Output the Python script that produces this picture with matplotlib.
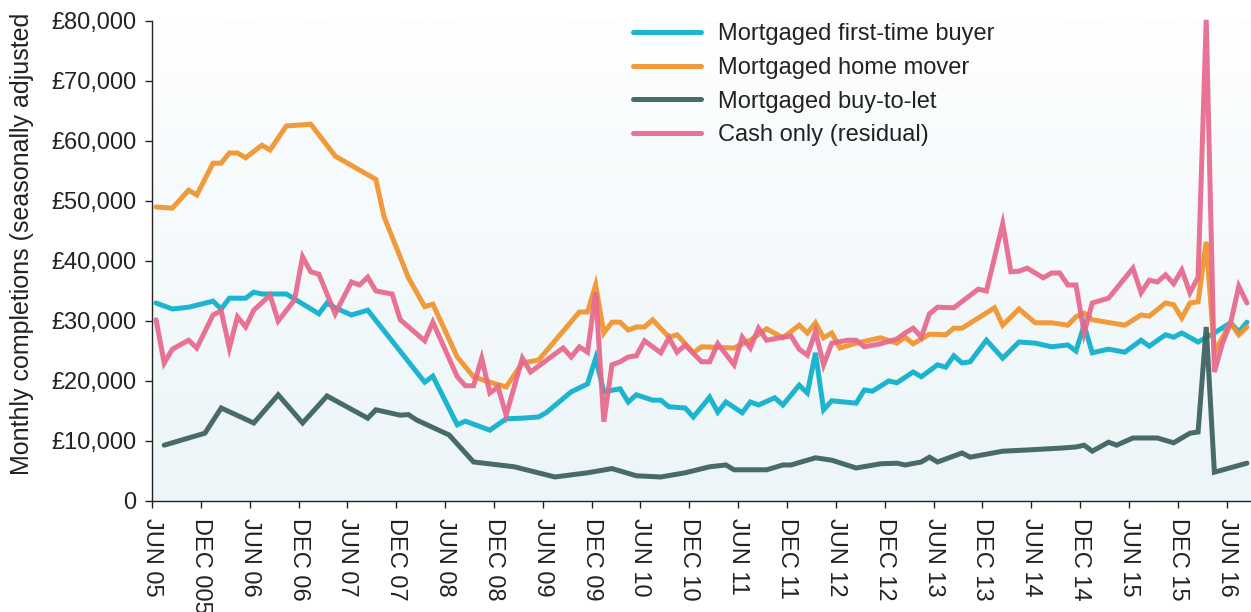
import matplotlib
matplotlib.use("Agg")
import matplotlib.pyplot as plt
import numpy as np

plt.rcParams['font.family'] = ['Liberation Sans', 'DejaVu Sans']

# months counted from June 2005 (0 = Jun 05)
ftb_months = [0, 2, 4, 7, 8, 9, 11, 12, 13, 16, 20, 21, 22, 24, 26, 33, 34, 37, 38, 41, 43, 45,
              47, 48, 51, 53, 54, 55, 57, 58, 59, 61, 62, 63, 65, 66, 68, 69, 70, 72, 73, 74, 76,
              77, 79, 80, 81, 82, 83, 86, 87, 88, 90, 91, 93, 94, 96, 97, 98, 99, 100, 102, 104,
              106, 108, 110, 112, 113, 114, 115, 117, 119, 121, 122, 124, 125, 126, 128, 130, 132,
              133, 134]
ftb_values = [33000, 32000, 32300, 33300, 32000, 33800, 33800, 34800, 34500, 34500, 31200, 33000,
              32200, 31000, 31800, 19800, 20800, 12700, 13300, 11800, 13700, 13800,
              14000, 14800, 18200, 19500, 23800, 18200, 18700, 16500, 17700, 16800, 16800, 15700,
              15500, 14000, 17300, 14800, 16500, 14700, 16500, 16000, 17200,
              16000, 19300, 18000, 24700, 15200, 16700, 16300, 18500, 18300, 20000, 19700, 21500,
              20700, 22700, 22300, 24200, 23000, 23200, 26800, 23800,
              26500, 26300, 25700, 26000, 25000, 29300, 24700, 25300, 24800, 26800, 25800, 27700,
              27300, 28000, 26500, 28000, 29700, 28200, 29800]

mover_months = [0, 2, 4, 5, 7, 8, 9, 10, 11, 13, 14, 16, 19, 22, 23, 27, 28, 31, 33, 34, 37, 39,
                41, 43, 45, 47, 52, 53, 54, 55, 56, 57, 58, 59, 60, 61, 63, 64, 66, 67, 71, 73,
                75, 77, 79, 80, 81, 82, 83, 84, 86, 89, 91, 92, 93, 95, 97, 98, 99, 103, 104,
                106, 108, 110, 112, 113, 114, 115, 119, 121, 122, 124, 125, 126, 127, 128, 129,
                130, 132, 133, 134]
mover_values = [49000, 48800, 51800, 51000, 56300, 56300, 58000, 58000, 57200, 59300, 58500,
                62500, 62800, 57500, 56700, 53600, 47400, 37200, 32400, 32800, 24000, 20700,
                19800, 19000, 23000, 23500, 31500, 31500, 36000, 28000, 29800, 29800, 28500,
                29000, 29000, 30200, 27300, 27700, 24700, 25700, 25500, 26800,
                28700, 27200, 29300, 28000, 29700, 27200, 28000, 25500, 26300, 27200, 26300,
                27300, 26200, 27800, 27700, 28800, 28800, 32200, 29300,
                32000, 29700, 29700, 29300, 30700, 31300, 30200, 29300, 31000, 30800, 33000,
                32700, 30500, 33000, 33200, 43200, 24800, 29700, 27700, 29000]

btl_months = [1, 6, 8, 12, 15, 18, 21, 26, 27, 30, 31, 32, 36, 39, 44, 49, 53, 56, 59, 62, 65,
              68, 70, 71, 75, 77, 78, 81, 83, 86, 89, 91, 92, 94, 95, 96, 99, 100, 104, 107,
              111, 113, 114, 115, 117, 118, 120, 123, 125, 127, 128, 129, 130, 134]
btl_values = [9300, 11300, 15500, 13000, 17700, 13000, 17500, 13800, 15200, 14300, 14400, 13500,
              11000, 6500, 5700, 4000, 4700, 5400, 4200, 4000, 4700,
              5700, 6000, 5200, 5200, 6000, 6000, 7200, 6800, 5500, 6200, 6300, 6000, 6500,
              7300, 6500, 8000, 7300, 8300, 8500,
              8800, 9000, 9300, 8300, 9800, 9300, 10500, 10500, 9700, 11300, 11500, 29000,
              4800, 6300]

cash_months = [0, 1, 2, 4, 5, 7, 8, 9, 10, 11, 12, 14, 15, 17, 18, 19, 20, 22, 24, 25, 26, 27,
               29, 30, 33, 34, 37, 38, 39, 40, 41, 42, 43, 45, 46, 48, 50, 51, 52, 53, 54, 55,
               56, 57, 58, 59, 60, 62, 63, 64, 65, 67, 68, 69, 71, 72, 73, 74, 75, 77, 78, 79,
               80, 81, 82, 83, 85, 86, 87, 89, 91, 92, 93, 94, 95, 96, 98, 101, 102, 104, 105,
               106, 107, 109, 110, 111, 112, 113, 114, 115, 117, 120, 121, 122, 123, 124, 125,
               126, 127, 128, 129, 130, 131, 132, 133, 134]
cash_values = [30200, 23000, 25300, 26800, 25500, 31000, 31700, 25500, 30700, 29000, 31800,
               34300, 30000, 33500, 40700, 38200, 37800, 31200, 36500, 36000, 37300, 35000,
               34500, 30200, 26700, 29800, 20700, 19200, 19200, 23800, 18000, 19000, 14300,
               23800, 21500, 23500, 25500, 24000, 25700, 24800, 34800, 13200,
               22700, 23200, 24000, 24200, 26700, 24700, 27200, 24800, 26000, 23200, 23200,
               26200, 22700, 27300, 25500, 28800, 26800, 27300, 27500, 25300,
               24300, 28200, 22700, 26300, 26800, 26800, 25700, 26200, 27000, 28000, 28800,
               27300, 31200, 32300, 32200, 35300, 35000, 46200, 38200,
               38300, 38800, 37200, 38000, 38000, 36000, 36000, 28000, 33000, 33800, 38800,
               34700, 36800, 36500, 37700, 36200,
               38500, 34700, 37300, 80200, 21500, 26300, 29700, 35800, 33000]

series_names = ["Mortgaged first-time buyer", "Mortgaged home mover",
                "Mortgaged buy-to-let", "Cash only (residual)"]
series_colors = ["#0aafcb", "#f0922a", "#3a5f5e", "#e7678b"]

tick_labels = ["JUN 05", "DEC 005", "JUN 06", "DEC 06", "JUN 07", "DEC 07", "JUN 08",
               "DEC 08", "JUN 09", "DEC 09", "JUN 10", "DEC 10", "JUN 11", "DEC 11",
               "JUN 12", "DEC 12", "JUN 13", "DEC 13", "JUN 14", "DEC 14", "JUN 15",
               "DEC 15", "JUN 16"]

fig = plt.figure(figsize=(12.51, 6.12), dpi=100)
ax = fig.add_axes([0.1215, 0.1814, 0.8785, 0.7843])

# soft vertical gradient behind the plot
grad = np.linspace(0, 1, 256).reshape(-1, 1)
cmap = matplotlib.colors.LinearSegmentedColormap.from_list("bg", ["#ecf5f8", "#fdfeff"])
ax.imshow(grad, extent=[0, 1, 0, 1], transform=ax.transAxes, origin="lower",
          aspect="auto", cmap=cmap, zorder=0)

all_months = [ftb_months, mover_months, btl_months, cash_months]
all_values = [ftb_values, mover_values, btl_values, cash_values]
for months, values, name, color in zip(all_months, all_values, series_names, series_colors):
    ax.plot(np.array(months) + 0.5, values, color=color, lw=3.6, alpha=0.92,
            solid_capstyle="round", solid_joinstyle="miter", label=name, zorder=2,
            clip_on=False)

ax.set_xlim(0, 135)
ax.set_ylim(0, 80000)
ax.set_xticks(np.arange(0, 6 * len(tick_labels), 6))
ax.set_xticklabels(tick_labels, rotation=270, va="top", ha="center")
ax.set_yticks(np.arange(0, 80001, 10000))
ax.set_yticklabels(["0"] + ["£{:,}".format(v) for v in range(10000, 80001, 10000)])
ax.tick_params(axis="both", labelsize=17, colors="#222222", length=5, width=1, pad=6)
ax.tick_params(axis="x", pad=7)

for side in ["top", "right"]:
    ax.spines[side].set_visible(False)
for side in ["left", "bottom"]:
    ax.spines[side].set_color("#222222")
    ax.spines[side].set_linewidth(1)

ax.set_ylabel("Monthly completions (seasonally adjusted", fontsize=18, color="#222222")
ax.yaxis.set_label_coords(-0.107, 0.535)

leg = ax.legend(loc="upper left", bbox_to_anchor=(0.418, 1.04), frameon=False, fontsize=17,
                handlelength=2.9, handletextpad=0.7, labelspacing=0.5)
for t in leg.get_texts():
    t.set_color("#222222")

fig.savefig("out.png", dpi=100)
